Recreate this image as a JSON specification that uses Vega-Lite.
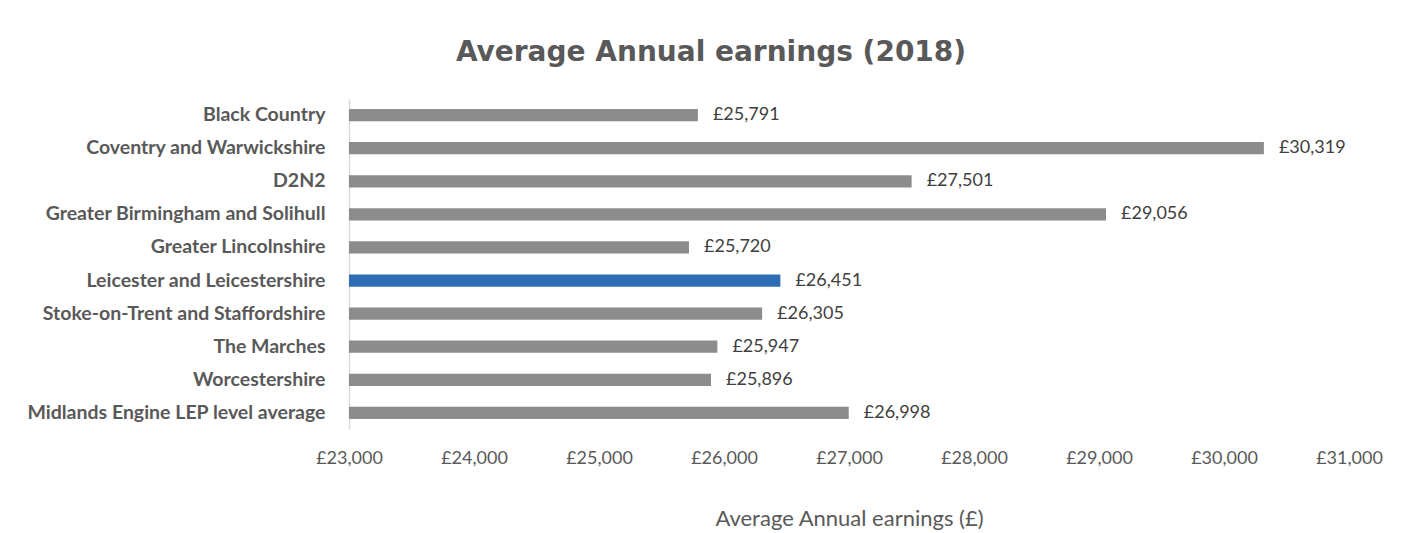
{
  "$schema": "https://vega.github.io/schema/vega-lite/v6.json",
  "autosize": "none",
  "width": 1000,
  "height": 330,
  "padding": {"left": 349, "top": 99, "right": 56, "bottom": 104},
  "background": "white",
  "title": {
    "text": "Average Annual earnings (2018)",
    "font": "DejaVu Sans",
    "fontSize": 28,
    "fontWeight": "bold",
    "color": "#595959",
    "anchor": "middle",
    "frame": "group",
    "dx": -138,
    "offset": 32
  },
  "config": {
    "view": {"stroke": null},
    "locale": {
      "number": {
        "decimal": ".",
        "thousands": ",",
        "grouping": [3],
        "currency": ["£", ""]
      }
    }
  },
  "data": {
    "values": [
      {"region": "Black Country", "earnings": 25791, "highlight": "no"},
      {"region": "Coventry and Warwickshire", "earnings": 30319, "highlight": "no"},
      {"region": "D2N2", "earnings": 27501, "highlight": "no"},
      {"region": "Greater Birmingham and Solihull", "earnings": 29056, "highlight": "no"},
      {"region": "Greater Lincolnshire", "earnings": 25720, "highlight": "no"},
      {"region": "Leicester and Leicestershire", "earnings": 26451, "highlight": "yes"},
      {"region": "Stoke-on-Trent and Staffordshire", "earnings": 26305, "highlight": "no"},
      {"region": "The Marches", "earnings": 25947, "highlight": "no"},
      {"region": "Worcestershire", "earnings": 25896, "highlight": "no"},
      {"region": "Midlands Engine LEP level average", "earnings": 26998, "highlight": "no"}
    ]
  },
  "encoding": {
    "y": {
      "field": "region",
      "type": "nominal",
      "sort": null,
      "scale": {"paddingInner": 0.63, "paddingOuter": 0.3},
      "axis": {
        "title": null,
        "ticks": false,
        "domainColor": "#d9d9d9",
        "domainWidth": 1.5,
        "labelFont": "Lato",
        "labelFontWeight": "bold",
        "labelFontSize": 19.5,
        "labelColor": "#595959",
        "labelPadding": 24,
        "labelLimit": 400
      }
    },
    "x": {
      "field": "earnings",
      "type": "quantitative",
      "scale": {"domain": [23000, 31000], "zero": false, "nice": false},
      "axis": {
        "title": "Average Annual earnings (£)",
        "titleFont": "Lato",
        "titleFontWeight": "normal",
        "titleFontSize": 22,
        "titleColor": "#595959",
        "titlePadding": 41,
        "values": [23000, 24000, 25000, 26000, 27000, 28000, 29000, 30000, 31000],
        "format": "$,.0f",
        "grid": false,
        "domain": false,
        "ticks": false,
        "labelFlush": false,
        "labelFont": "Lato",
        "labelFontSize": 18,
        "labelColor": "#595959",
        "labelPadding": 20
      }
    }
  },
  "layer": [
    {
      "mark": {"type": "bar"},
      "encoding": {
        "x2": {"datum": 23000},
        "color": {
          "field": "highlight",
          "type": "nominal",
          "scale": {"domain": ["no", "yes"], "range": ["#8c8c8c", "#2e6db4"]},
          "legend": null
        }
      }
    },
    {
      "mark": {"type": "text", "align": "left", "dx": 15, "font": "Lato", "fontSize": 18, "color": "#404040"},
      "encoding": {
        "text": {"field": "earnings", "type": "quantitative", "format": "$,.0f"}
      }
    }
  ]
}
